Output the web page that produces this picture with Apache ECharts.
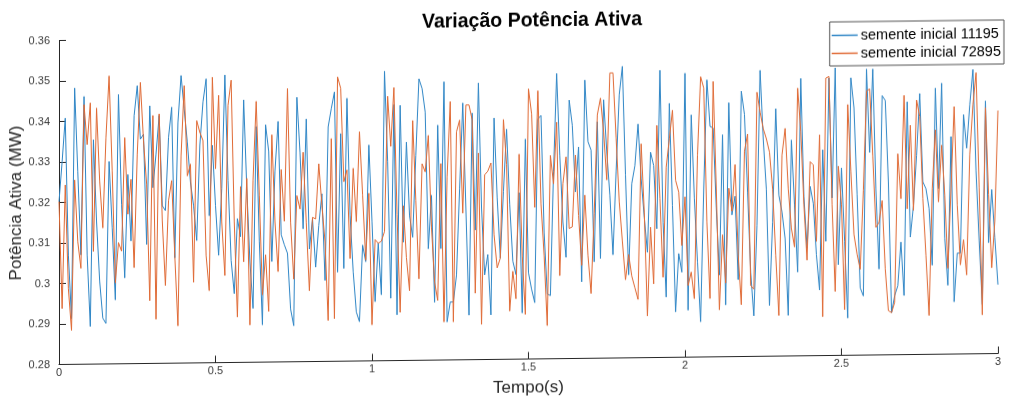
<!DOCTYPE html>
<html>
<head>
<meta charset="utf-8">
<script src="https://cdn.jsdelivr.net/npm/echarts@6/dist/echarts.min.js"></script>
<style>
  html, body { margin: 0; padding: 0; background: #ffffff; overflow: hidden; }
  #chart { width: 1012px; height: 405px; transform: skewY(-0.67deg); transform-origin: 59px 0; }
</style>
</head>
<body>
<div id="chart"></div>
<script>
// ---- data ----
const TIME_STEP = 0.01;            // seconds between samples
const xTicks = [0, 0.5, 1, 1.5, 2, 2.5, 3];
const yTicks = [0.28, 0.29, 0.30, 0.31, 0.32, 0.33, 0.34, 0.35, 0.36];
const seriesNames = ['semente inicial 11195', 'semente inicial 72895'];

const seed11195 = [
0.3202,0.3301,0.3408,0.3070,0.2913,0.3482,0.3276,0.3070,0.3461,0.3070,
0.2893,0.3354,0.3152,0.3004,0.2913,0.2900,0.3300,0.3136,0.2958,0.3465,
0.3193,0.3012,0.3267,0.3103,0.3412,0.3486,0.3354,0.3366,0.3094,0.3436,
0.3234,0.3317,0.3412,0.3189,0.3177,0.3358,0.3432,0.3060,0.3394,0.3510,
0.3427,0.3345,0.3246,0.3188,0.3102,0.3337,0.3444,0.3501,0.3163,0.3337,
0.3188,0.3065,0.3229,0.3510,0.3250,0.3052,0.2970,0.3155,0.3110,0.3448,
0.3229,0.3048,0.2933,0.3382,0.3098,0.2892,0.3386,0.3320,0.3048,0.3271,
0.3394,0.3114,0.3089,0.3068,0.2930,0.2889,0.3453,0.3317,0.3128,0.3399,
0.3078,0.3152,0.3033,0.3136,0.3214,0.3000,0.3379,0.3424,0.3465,0.3020,
0.3362,0.3029,0.3449,0.3160,0.3020,0.2921,0.2897,0.3086,0.3045,0.3333,
0.3144,0.2946,0.3090,0.2963,0.3515,0.3292,0.2954,0.3432,0.2913,0.3430,
0.3092,0.3339,0.3157,0.3104,0.3306,0.3495,0.3471,0.3413,0.3075,0.3207,
0.2943,0.3380,0.3075,0.3487,0.2894,0.2943,0.2943,0.3009,0.3223,0.3434,
0.3174,0.2910,0.3409,0.3120,0.3483,0.3174,0.3009,0.3059,0.2910,0.3396,
0.3199,0.3050,0.3215,0.3368,0.3182,0.3042,0.3009,0.3211,0.2914,0.3343,
0.3013,0.2972,0.2939,0.3392,0.3401,0.3112,0.2960,0.2956,0.3261,0.3504,
0.3302,0.3137,0.3050,0.3438,0.3376,0.3211,0.3322,0.2989,0.3487,0.3335,
0.3314,0.3038,0.3384,0.3046,0.3438,0.3310,0.3203,0.3055,0.3261,0.3450,
0.3520,0.3252,0.3005,0.3230,0.3274,0.3377,0.3241,0.3146,0.3060,0.3307,
0.3274,0.3118,0.3509,0.3134,0.2949,0.3427,0.3175,0.2912,0.3056,0.3010,
0.3501,0.2916,0.3398,0.3192,0.3035,0.2887,0.3216,0.3484,0.3369,0.3365,
0.3167,0.3002,0.3348,0.2928,0.3427,0.3150,0.3196,0.2990,0.3455,0.3398,
0.3206,0.3007,0.2900,0.3123,0.3506,0.3337,0.3213,0.2925,0.3131,0.3411,
0.3197,0.3156,0.3090,0.2900,0.3333,0.3172,0.3007,0.3485,0.3193,0.3065,
0.3218,0.3176,0.3049,0.2962,0.3308,0.3082,0.3485,0.3189,0.3510,0.3024,
0.3263,0.3082,0.2892,0.3485,0.3411,0.3197,0.2966,0.2946,0.3506,0.3300,
0.3506,0.3209,0.3012,0.3440,0.3428,0.3226,0.2904,0.2946,0.2970,0.3078,
0.2946,0.3424,0.3090,0.3168,0.3292,0.3444,0.3226,0.3209,0.3160,0.3020,
0.3457,0.3209,0.3469,0.3086,0.2970,0.3337,0.2929,0.3049,0.3049,0.3391,
0.3308,0.3415,0.3502,0.3251,0.3078,0.2921,0.3424,0.3074,0.3205,0.3086,
0.2970
];

const seed72895 = [
0.3202,0.2938,0.3243,0.2987,0.2884,0.3255,0.3103,0.3037,0.3441,0.3342,
0.3445,0.3078,0.3432,0.3251,0.3136,0.3358,0.3511,0.3276,0.3000,0.3099,
0.3078,0.3358,0.3169,0.3255,0.3037,0.3317,0.3494,0.3350,0.3243,0.2955,
0.3412,0.2909,0.3416,0.3152,0.2992,0.3202,0.3251,0.3065,0.2892,0.3312,
0.3485,0.3262,0.3291,0.2999,0.3398,0.3369,0.3349,0.3065,0.2978,0.3505,
0.3279,0.3460,0.3147,0.3015,0.3435,0.3497,0.3147,0.2912,0.3234,0.3048,
0.3254,0.2892,0.3250,0.3444,0.3213,0.2966,0.3065,0.2925,0.3361,0.3147,
0.3023,0.3275,0.3147,0.3475,0.3144,0.3004,0.3210,0.3177,0.3317,0.3144,
0.2975,0.3156,0.3152,0.3288,0.3185,0.3095,0.2901,0.3350,0.2905,0.3502,
0.3474,0.3243,0.3272,0.3053,0.3276,0.3144,0.3366,0.3210,0.3049,0.3214,
0.2889,0.3099,0.3090,0.3095,0.3119,0.3453,0.3329,0.3474,0.3160,0.2919,
0.3182,0.3054,0.2972,0.3392,0.3195,0.3001,0.3285,0.3265,0.3355,0.3129,
0.2993,0.2947,0.3285,0.2894,0.3252,0.3438,0.2894,0.3363,0.3392,0.3162,
0.3429,0.3429,0.3392,0.2964,0.3310,0.2887,0.3256,0.3265,0.3285,0.3108,
0.3026,0.3050,0.3392,0.3281,0.2919,0.3017,0.2949,0.3306,0.3055,0.2910,
0.3467,0.3405,0.3174,0.3462,0.3182,0.3055,0.2882,0.3302,0.3232,0.3384,
0.3005,0.3232,0.3298,0.3121,0.3125,0.3302,0.3153,0.3030,0.3203,0.3055,
0.2960,0.3158,0.3401,0.3442,0.3359,0.3240,0.3504,0.3504,0.3343,0.3186,
0.3088,0.2993,0.3055,0.3002,0.2973,0.2944,0.3328,0.3159,0.2903,0.3122,
0.2982,0.3373,0.3192,0.2998,0.3270,0.3340,0.3410,0.3237,0.3208,0.3076,
0.3196,0.2977,0.3010,0.2944,0.3299,0.3492,0.3464,0.3134,0.2944,0.3480,
0.3216,0.2916,0.3101,0.2982,0.3216,0.3159,0.3274,0.3052,0.2928,0.3307,
0.3349,0.2975,0.2966,0.3452,0.3403,0.3362,0.3337,0.3304,0.3213,0.3049,
0.2900,0.3296,0.3362,0.3213,0.3115,0.3069,0.3461,0.3353,0.3172,0.3036,
0.3279,0.3271,0.3082,0.3345,0.2896,0.3485,0.3489,0.3172,0.2958,0.3267,
0.3172,0.2913,0.3419,0.3255,0.3098,0.3049,0.3012,0.3207,0.3452,0.3457,
0.3292,0.3115,0.3127,0.3181,0.3012,0.2909,0.2904,0.2929,0.3296,0.3185,
0.3440,0.3160,0.3366,0.3156,0.3428,0.3387,0.3185,0.3045,0.2896,0.3209,
0.3354,0.3176,0.3316,0.3193,0.3012,0.3209,0.3411,0.3168,0.3020,0.3082,
0.2995,0.3292,0.3415,0.3494,0.3209,0.2896,0.3407,0.3193,0.3012,0.3127,
0.3400
];

// ---- chart ----
function toPairs(values) {
  return values.map((v, i) => [Math.round(i * TIME_STEP * 100) / 100, v]);
}

const axisColor = '#262626';
const labelColor = '#3a3a3a';
const fontFam = '"Liberation Sans", Arial, Helvetica, sans-serif';

const chart = echarts.init(document.getElementById('chart'), null, { renderer: 'canvas' });
chart.setOption({
  animation: false,
  backgroundColor: '#ffffff',
  title: {
    text: 'Variação Potência Ativa',
    left: 527, textAlign: 'center', top: 12,
    textStyle: { fontFamily: fontFam, fontSize: 19.5, fontWeight: 'bold', color: '#000' }
  },
  legend: {
    data: seriesNames,
    orient: 'vertical',
    right: 8, top: 31,
    backgroundColor: '#ffffff',
    borderColor: '#555555', borderWidth: 1,
    padding: [6, 3, 5, 2],
    itemGap: 3,
    itemWidth: 26, itemHeight: 1.5,
    icon: 'rect',
    textStyle: { fontFamily: fontFam, fontSize: 14.5, color: '#000', padding: [0, 0, 0, -2] }
  },
  grid: { left: 59, right: 14, top: 40.5, bottom: 40.5, outerBoundsMode: 'none', containLabel: false },
  xAxis: {
    type: 'value', min: xTicks[0], max: xTicks[xTicks.length - 1], interval: 0.5,
    name: 'Tempo(s)', nameLocation: 'middle', nameGap: 20, nameMoveOverlap: false,
    nameTextStyle: { fontFamily: fontFam, fontSize: 17, color: '#262626' },
    axisLine: { show: true, lineStyle: { color: axisColor, width: 1 } },
    axisTick: { show: true, inside: true, length: 7, lineStyle: { color: axisColor } },
    axisLabel: { margin: 3, fontFamily: fontFam, fontSize: 11, color: labelColor },
    splitLine: { show: false }
  },
  yAxis: {
    type: 'value', min: yTicks[0], max: yTicks[yTicks.length - 1], interval: 0.01,
    name: 'Potência Ativa (MW)', nameLocation: 'middle', nameGap: 34, nameMoveOverlap: false,
    nameTextStyle: { fontFamily: fontFam, fontSize: 17, color: '#262626' },
    axisLine: { show: true, lineStyle: { color: axisColor, width: 1 } },
    axisTick: { show: true, inside: true, length: 7, lineStyle: { color: axisColor } },
    axisLabel: { margin: 9, fontFamily: fontFam, fontSize: 11, color: labelColor },
    splitLine: { show: false }
  },
  series: [
    {
      name: seriesNames[0], type: 'line', data: toPairs(seed11195),
      showSymbol: false, symbol: 'none',
      lineStyle: { color: '#2f86c6', width: 1 }, itemStyle: { color: '#2f86c6' }
    },
    {
      name: seriesNames[1], type: 'line', data: toPairs(seed72895),
      showSymbol: false, symbol: 'none',
      lineStyle: { color: '#e06a35', width: 1 }, itemStyle: { color: '#e06a35' }
    }
  ]
});
</script>
</body>
</html>
